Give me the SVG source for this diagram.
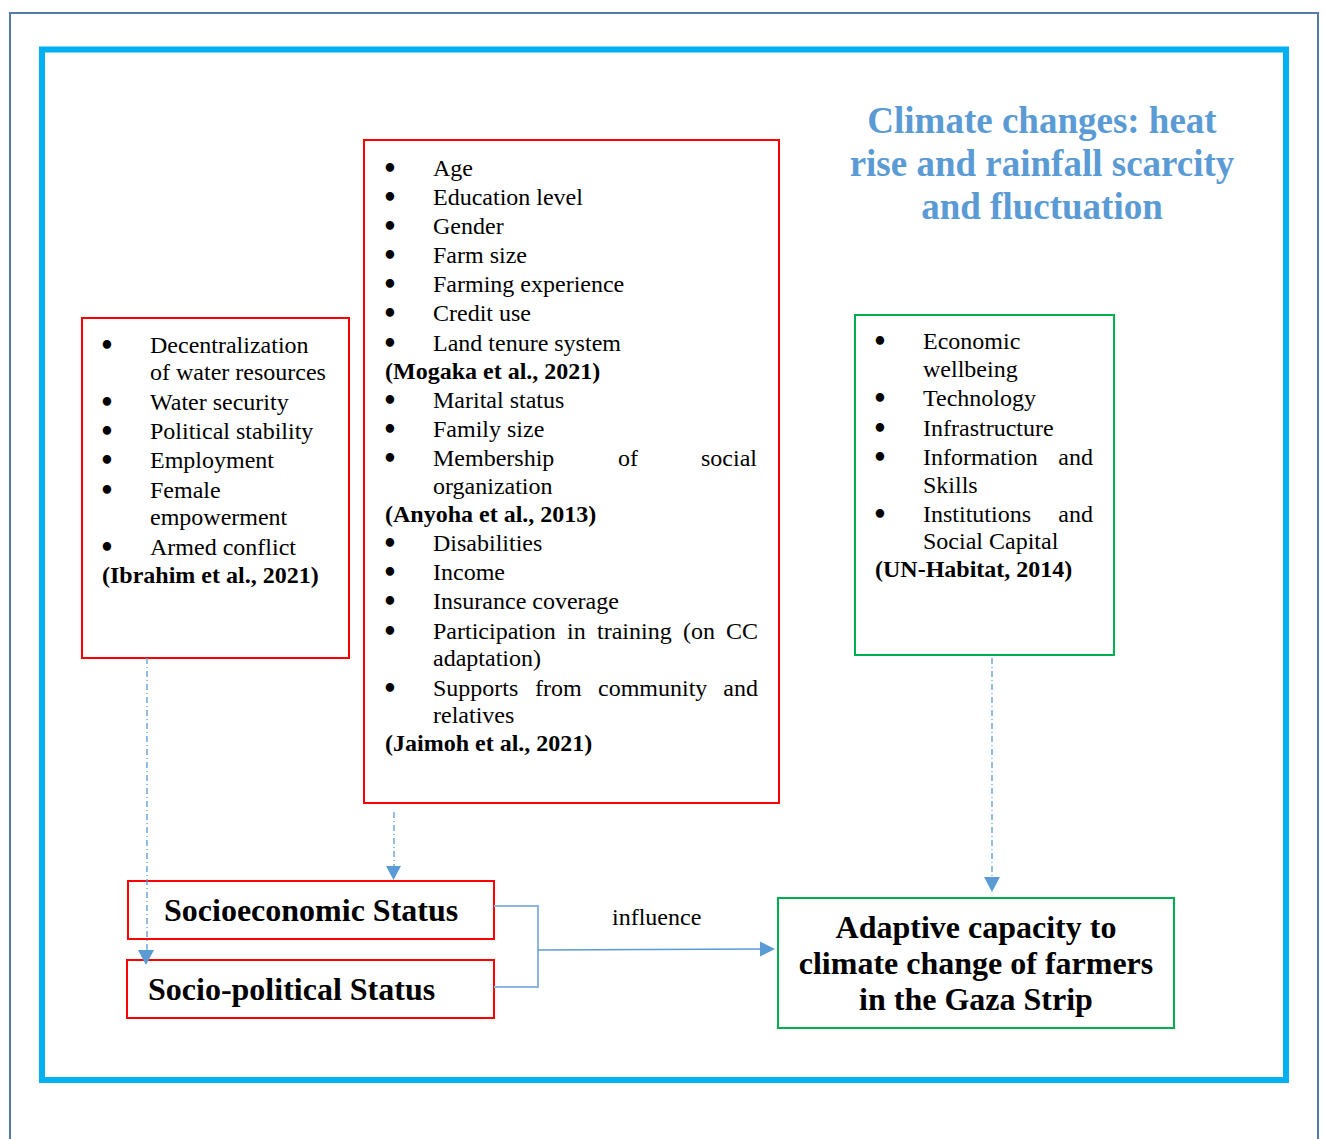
<svg xmlns="http://www.w3.org/2000/svg" width="1325" height="1139" viewBox="0 0 1325 1139">
<defs>
<style>
.t{font-family:"Liberation Serif","Times New Roman",serif;font-size:24px;fill:#000}
.b{font-weight:bold}
.u{font-family:"DejaVu Sans",sans-serif;font-weight:bold;font-size:24px;text-anchor:middle}
.big{font-family:"Liberation Serif","Times New Roman",serif;font-size:32px;font-weight:bold;fill:#000}
.title{font-family:"Liberation Serif","Times New Roman",serif;font-size:37px;font-weight:bold;fill:#5b9bd5}
.red{fill:none;stroke:#ff0000;stroke-width:2}
.grn{fill:none;stroke:#00b050;stroke-width:2}
.dd{fill:none;stroke:#5b9bd5;stroke-width:1.3;stroke-dasharray:6 3 1 3}
.br{fill:none;stroke:#8db4e2;stroke-width:2}
.ah{fill:#5b9bd5}
</style>
</defs>
<rect width="1325" height="1139" fill="#ffffff"/>
<rect x="10" y="13" width="1308" height="1140" fill="none" stroke="#557aa6" stroke-width="2"/>
<rect x="42" y="49.5" width="1244" height="1030.5" fill="none" stroke="#00b0f0" stroke-width="6"/>

<g id="title">
<text class="title" x="1042" y="133" text-anchor="middle">Climate changes: heat</text>
<text class="title" x="1042" y="176" text-anchor="middle">rise and rainfall scarcity</text>
<text class="title" x="1042" y="219" text-anchor="middle">and fluctuation</text>
</g>

<g id="sociopolitical-factors">
<rect class="red" x="82" y="318" width="267" height="340"/>
<g class="t">
<text class="u" x="107" y="354">•</text><text x="150" y="353">Decentralization</text>
<text x="150" y="380">of water resources</text>
<text class="u" x="107" y="411">•</text><text x="150" y="410">Water security</text>
<text class="u" x="107" y="440">•</text><text x="150" y="439">Political stability</text>
<text class="u" x="107" y="469">•</text><text x="150" y="468">Employment</text>
<text class="u" x="107" y="499">•</text><text x="150" y="498">Female</text>
<text x="150" y="525">empowerment</text>
<text class="u" x="107" y="556">•</text><text x="150" y="555">Armed conflict</text>
<text class="b" x="102" y="583">(Ibrahim et al., 2021)</text>
</g>
</g>

<g id="socioeconomic-factors">
<rect class="red" x="364" y="140" width="415" height="663"/>
<g class="t">
<text class="u" x="390" y="177">•</text><text x="433" y="176">Age</text>
<text class="u" x="390" y="206">•</text><text x="433" y="205">Education level</text>
<text class="u" x="390" y="235">•</text><text x="433" y="234">Gender</text>
<text class="u" x="390" y="264">•</text><text x="433" y="263">Farm size</text>
<text class="u" x="390" y="293">•</text><text x="433" y="292">Farming experience</text>
<text class="u" x="390" y="322">•</text><text x="433" y="321">Credit use</text>
<text class="u" x="390" y="352">•</text><text x="433" y="351">Land tenure system</text>
<text class="b" x="385" y="379">(Mogaka et al., 2021)</text>
<text class="u" x="390" y="409">•</text><text x="433" y="408">Marital status</text>
<text class="u" x="390" y="438">•</text><text x="433" y="437">Family size</text>
<text class="u" x="390" y="467">•</text><text x="433" y="466">Membership</text><text x="618" y="466">of</text><text x="757" y="466" text-anchor="end">social</text>
<text x="433" y="494">organization</text>
<text class="b" x="385" y="522">(Anyoha et al., 2013)</text>
<text class="u" x="390" y="552">•</text><text x="433" y="551">Disabilities</text>
<text class="u" x="390" y="581">•</text><text x="433" y="580">Income</text>
<text class="u" x="390" y="610">•</text><text x="433" y="609">Insurance coverage</text>
<text class="u" x="390" y="640">•</text><text x="433" y="639">Participation</text><text x="567" y="639">in</text><text x="597" y="639">training</text><text x="683" y="639">(on</text><text x="758" y="639" text-anchor="end">CC</text>
<text x="433" y="666">adaptation)</text>
<text class="u" x="390" y="697">•</text><text x="433" y="696">Supports</text><text x="535" y="696">from</text><text x="598" y="696">community</text><text x="758" y="696" text-anchor="end">and</text>
<text x="433" y="723">relatives</text>
<text class="b" x="385" y="751">(Jaimoh et al., 2021)</text>
</g>
</g>

<g id="adaptive-determinants">
<rect class="grn" x="855" y="315" width="259" height="340"/>
<g class="t">
<text class="u" x="880" y="350">•</text><text x="923" y="349">Economic</text>
<text x="923" y="377">wellbeing</text>
<text class="u" x="880" y="407">•</text><text x="923" y="406">Technology</text>
<text class="u" x="880" y="437">•</text><text x="923" y="436">Infrastructure</text>
<text class="u" x="880" y="466">•</text><text x="923" y="465">Information</text><text x="1093" y="465" text-anchor="end">and</text>
<text x="923" y="493">Skills</text>
<text class="u" x="880" y="523">•</text><text x="923" y="522">Institutions</text><text x="1093" y="522" text-anchor="end">and</text>
<text x="923" y="549">Social Capital</text>
<text class="b" x="875" y="577">(UN-Habitat, 2014)</text>
</g>
</g>

<g id="socioeconomic-status">
<rect class="red" x="128" y="881" width="366" height="58"/>
<text class="big" x="164" y="921">Socioeconomic Status</text>
</g>

<g id="sociopolitical-status">
<rect class="red" x="127" y="960" width="367" height="58"/>
<text class="big" x="148" y="1000">Socio-political Status</text>
</g>

<g id="adaptive-capacity">
<rect class="grn" x="778" y="898" width="396" height="130"/>
<text class="big" x="976" y="938" text-anchor="middle">Adaptive capacity to</text>
<text class="big" x="976" y="974" text-anchor="middle">climate change of farmers</text>
<text class="big" x="976" y="1010" text-anchor="middle">in the Gaza Strip</text>
</g>

<g id="connectors">
<path class="dd" d="M147,658 V951"/>
<polygon class="ah" points="138,950 154,950 146,965"/>
<path class="dd" d="M394,812 V867"/>
<polygon class="ah" points="386,866 401,866 393.5,880"/>
<path class="dd" d="M992,658 V878"/>
<polygon class="ah" points="984,877 1000,877 992,892"/>
<path class="br" d="M494,906 H538 V987 H494"/>
<path d="M538,950 L761,949" fill="none" stroke="#5b9bd5" stroke-width="1.5"/>
<polygon class="ah" points="760,941.5 775,949 760,956.5"/>
<text class="t" x="612" y="925">influence</text>
</g>
</svg>
